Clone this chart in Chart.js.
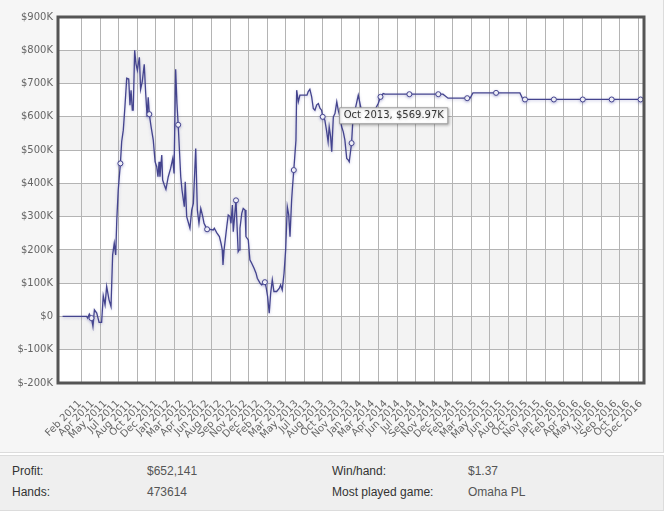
<!DOCTYPE html>
<html>
<head>
<meta charset="utf-8">
<script src="https://cdn.jsdelivr.net/npm/chart.js@4/dist/chart.umd.min.js"></script>
<style>
  html, body { margin:0; padding:0; background:#ffffff; }
  body { width:667px; height:513px; position:relative; overflow:hidden; }
  #wrap { position:absolute; left:0; top:0; width:663px; height:452px; background:#f6f6f6;
          border-right:1px solid #dcdcdc; border-bottom:1px solid #dcdcdc; }
  #c { position:absolute; left:0; top:0; }
  #stats { position:absolute; left:0; top:455px; width:663px; height:54px; background:#efefef;
           border:1px solid #dcdcdc; border-left:none; font-family:"Liberation Sans", Arial, sans-serif; font-size:12px; }
  #stats span { position:absolute; line-height:14px; white-space:nowrap; }
  .lab { color:#333; }
  .val { color:#555; }
</style>
</head>
<body>
<div id="wrap"><canvas id="c" width="663" height="452"></canvas></div>
<div id="stats">
  <span class="lab" style="left:12px;top:8px">Profit:</span>
  <span class="val" style="left:147px;top:8px">$652,141</span>
  <span class="lab" style="left:332px;top:8px">Win/hand:</span>
  <span class="val" style="left:468px;top:8px">$1.37</span>
  <span class="lab" style="left:12px;top:29px">Hands:</span>
  <span class="val" style="left:147px;top:29px">473614</span>
  <span class="lab" style="left:332px;top:29px">Most played game:</span>
  <span class="val" style="left:468px;top:29px">Omaha PL</span>
</div>
<script>
// ---- data (x in weeks from start, profit in $K) ----
const weeks = [
  0, 13.3, 13.9, 14.8, 16, 16.8, 17.6, 18.9, 20.2, 21.6, 22.5, 23.5, 24.4, 25.7, 26.8, 27.7, 28.6, 29.4, 30.0, 30.8,
  32, 32.7, 33.6, 34.5, 35.5, 36.6, 37.3, 37.9, 38.6, 39.1, 39.9, 40.6, 41.4, 42.5, 43.2, 44.1, 45.2, 46.0, 46.8, 47.4,
  48, 49.0, 50.2, 51.2, 52.1, 52.8, 53.4, 53.9, 54.9, 55.4, 56.3, 57.2, 58.5, 59.8, 61.0, 61.7, 62.6, 63.3,
  64, 65.4, 66.1, 67.4, 67.9, 68.7, 70.5, 71.5, 72.4, 73.7, 74.6, 75.5, 76.5, 77.6, 78.3, 79.2,
  80, 81.6, 83.4, 84.0, 85.3, 86.8, 87.7, 88.4, 88.8, 89.4, 89.9, 90.9, 91.7, 92.7, 93.2, 94.0, 94.5,
  96, 96.6, 97.2, 97.7, 98.2, 99.2, 100.0, 101.0, 101.5, 102.8, 103.7, 104.7, 106.0, 107.1, 107.8, 109.3, 110.2,
  112, 112.6, 113.5, 114.4, 115.2, 116.1, 117.0, 118.5, 120.0, 120.7, 121.6, 122.6, 123.5, 124.4, 125.2, 125.9, 126.8, 127.3,
  128, 129.2, 129.6, 130.5, 131.4, 135.3, 136.0, 136.9, 137.9, 138.8, 139.7, 140.7, 141.6, 142.5, 143.4,
  144, 145.2, 146.1, 147.0, 147.6, 148.4, 149.0, 149.9, 150.8, 151.8, 152.6, 153.6, 154.5, 155.4, 156.3, 157.3, 158.2, 158.7,
  160, 160.6, 161.9, 163.7, 165.8, 168.0, 170.2, 172.4, 174.8,
  176, 177.5, 178.5, 192, 208, 210.6, 213.4, 224, 225.6, 227.2, 240, 253.2, 254.9, 256, 272, 288, 304, 320
];
const profitK = [
  0, 0, -5, 7, -5, -30, 20, 10, -18, -18, 62, 35, 90, 50, 30, 185, 220, 185, 290, 380,
  460, 525, 560, 630, 716, 714, 635, 680, 620, 620, 800, 760, 740, 779, 683, 706, 758, 671, 600, 659,
  608, 570, 530, 465, 450, 420, 465, 420, 485, 410, 395, 382, 420, 445, 475, 430, 743, 641,
  576, 420, 380, 330, 405, 300, 265, 320, 340, 505, 320, 280, 325, 300, 280, 270,
  262, 262, 260, 265, 252, 240, 220, 200, 155, 200, 200, 270, 305, 300, 280, 335, 255,
  349, 270, 195, 200, 265, 310, 325, 320, 240, 230, 170, 160, 145, 130, 115, 100, 95,
  103, 90, 60, 10, 70, 110, 75, 75, 85, 95, 80, 130, 200, 330, 305, 240, 350, 390,
  440, 530, 680, 645, 665, 665, 676, 683, 660, 625, 620, 636, 640, 626, 620,
  600, 590, 560, 525, 570, 540, 495, 600, 610, 645, 620, 600, 569.97, 555, 530, 475, 470, 465,
  521, 580, 620, 665, 610, 590, 600, 615, 641,
  660, 670, 668, 668, 668, 668, 656, 656, 656, 672, 672, 672, 652.141, 652.141, 652.141, 652.141, 652.141, 652.141
];
const tickLabels = [
  "Feb 2011","Apr 2011","May 2011","Jul 2011","Aug 2011","Oct 2011","Dec 2011","Jan 2012","Mar 2012","Apr 2012",
  "Jun 2012","Aug 2012","Sep 2012","Nov 2012","Dec 2012","Feb 2013","Mar 2013","May 2013","Jul 2013","Aug 2013",
  "Oct 2013","Nov 2013","Jan 2014","Mar 2014","Apr 2014","Jun 2014","Jul 2014","Sep 2014","Nov 2014","Dec 2014",
  "Feb 2015","Mar 2015","May 2015","Jun 2015","Aug 2015","Oct 2015","Nov 2015","Jan 2016","Feb 2016","Apr 2016",
  "May 2016","Jul 2016","Sep 2016","Oct 2016","Dec 2016"
];
const yTicks = [-200, -100, 0, 100, 200, 300, 400, 500, 600, 700, 800, 900];
const markerEvery = 16;
const tooltipWeek = 154.5;
const tooltipTitle = "Oct 2013";

// ---- axis layout ----
const X_MIN = -2.55, X_MAX = 321.9;
const LABEL_START = 9.6, LABEL_STEP = 7.059;
const GRID_START = 10.57, GRID_STEP = 10.27, GRID_COUNT = 31;

Chart.defaults.font.family = "'DejaVu Sans', Verdana, sans-serif";
Chart.defaults.font.size = 10;
Chart.defaults.color = '#666';

const TT = Chart.Tooltip || (Chart.registry && Chart.registry.plugins.get('tooltip'));
if (TT && TT.positioners) {
  TT.positioners.anchor = function(items) {
    if (!items.length) return false;
    const el = items[0].element;
    return { x: el.x - 2, y: el.y };
  };
}

const LINE = '#44448e';
const GRID = '#b4b4b4';

const bands = {
  id: 'bands',
  beforeDraw(chart) {
    const { ctx, chartArea: a, scales: { y } } = chart;
    ctx.save();
    ctx.fillStyle = '#ffffff';
    ctx.fillRect(a.left, a.top, a.right - a.left, a.bottom - a.top);
    ctx.fillStyle = '#f3f3f3';
    for (let v = -100; v < 900; v += 200) {
      const t = y.getPixelForValue(v + 100), b = y.getPixelForValue(v);
      ctx.fillRect(a.left, t, a.right - a.left, b - t);
    }
    ctx.restore();
  }
};
const frame = {
  id: 'frame',
  afterDatasetsDraw(chart) {
    const { ctx, chartArea: a } = chart;
    ctx.save();
    ctx.strokeStyle = '#555';
    ctx.lineWidth = 3;
    ctx.strokeRect(a.left, a.top, a.right - a.left, a.bottom - a.top);
    ctx.restore();
  }
};
const glow = {
  id: 'glow',
  beforeDatasetDraw(chart) {
    const ctx = chart.ctx;
    ctx.save();
    ctx.shadowColor = 'rgba(80,80,170,0.35)';
    ctx.shadowBlur = 3;
    ctx.shadowOffsetX = 0;
    ctx.shadowOffsetY = 1;
  },
  afterDatasetDraw(chart) { chart.ctx.restore(); },
  beforeTooltipDraw(chart) {
    const ctx = chart.ctx;
    ctx.save();
    ctx.shadowColor = 'rgba(0,0,0,0.25)';
    ctx.shadowBlur = 3;
    ctx.shadowOffsetX = 1;
    ctx.shadowOffsetY = 1;
  },
  afterTooltipDraw(chart) { chart.ctx.restore(); }
};

const isMarker = (c) => c.raw && c.raw.x > 0 && c.raw.x % markerEvery === 0;

const chart = new Chart(document.getElementById('c'), {
  type: 'line',
  data: {
    datasets: [{
      data: weeks.map((w, i) => ({ x: w, y: profitK[i] })),
      borderColor: LINE,
      borderWidth: 1.3,
      tension: 0,
      fill: false,
      pointRadius: (c) => isMarker(c) ? 2.5 : 0,
      pointHoverRadius: (c) => isMarker(c) ? 2.5 : 0,
      pointBackgroundColor: '#ffffff',
      pointBorderColor: LINE,
      pointBorderWidth: 1,
      pointHoverBorderWidth: 1
    }]
  },
  options: {
    responsive: false,
    animation: false,
    events: [],
    layout: { padding: { top: 17, right: 19, left: 0, bottom: 0 } },
    scales: {
      x: {
        type: 'linear', position: 'bottom', min: X_MIN, max: X_MAX,
        grid: { display: false },
        border: { display: false },
        afterBuildTicks: (s) => { s.ticks = tickLabels.map((_, j) => ({ value: LABEL_START + j * LABEL_STEP })); },
        ticks: { autoSkip: false, minRotation: 45, maxRotation: 45, padding: 7, color: '#666',
                 callback: (v, i) => tickLabels[i] },
        afterFit: (s) => { s.height = 69; }
      },
      xg: {
        type: 'linear', position: 'bottom', min: X_MIN, max: X_MAX,
        afterBuildTicks: (s) => { s.ticks = Array.from({ length: GRID_COUNT }, (_, k) => ({ value: GRID_START + k * GRID_STEP })); },
        grid: { color: GRID, lineWidth: 1, drawTicks: false },
        border: { display: false },
        ticks: { display: false },
        afterFit: (s) => { s.height = 0; }
      },
      y: {
        type: 'linear', min: -200, max: 900,
        afterBuildTicks: (s) => { s.ticks = yTicks.map(v => ({ value: v })); },
        grid: { color: GRID, lineWidth: 1, drawTicks: false },
        border: { display: false },
        ticks: { padding: 5, color: '#666', callback: (v) => v === 0 ? '$0' : '$' + v + 'K' },
        afterFit: (s) => { s.width = 58; }
      }
    },
    plugins: {
      legend: { display: false },
      tooltip: {
        enabled: true,
        position: (TT && TT.positioners && TT.positioners.anchor) ? 'anchor' : 'nearest',
        xAlign: 'left', yAlign: 'bottom',
        caretSize: 0, caretPadding: 3, cornerRadius: 0,
        backgroundColor: '#ffffff', borderColor: '#9a9a9a', borderWidth: 1,
        bodyColor: '#333', bodyFont: { family: "'DejaVu Sans', Verdana, sans-serif", size: 10 },
        padding: { left: 4, right: 4, top: 2, bottom: 2 },
        displayColors: false,
        callbacks: {
          title: () => [],
          label: (c) => tooltipTitle + ', $' + c.parsed.y.toFixed(2) + 'K'
        }
      }
    }
  },
  plugins: [bands, frame, glow]
});

const tIdx = weeks.indexOf(tooltipWeek);
chart.tooltip.setActiveElements([{ datasetIndex: 0, index: tIdx }], { x: 0, y: 0 });
chart.update();
</script>
</body>
</html>
